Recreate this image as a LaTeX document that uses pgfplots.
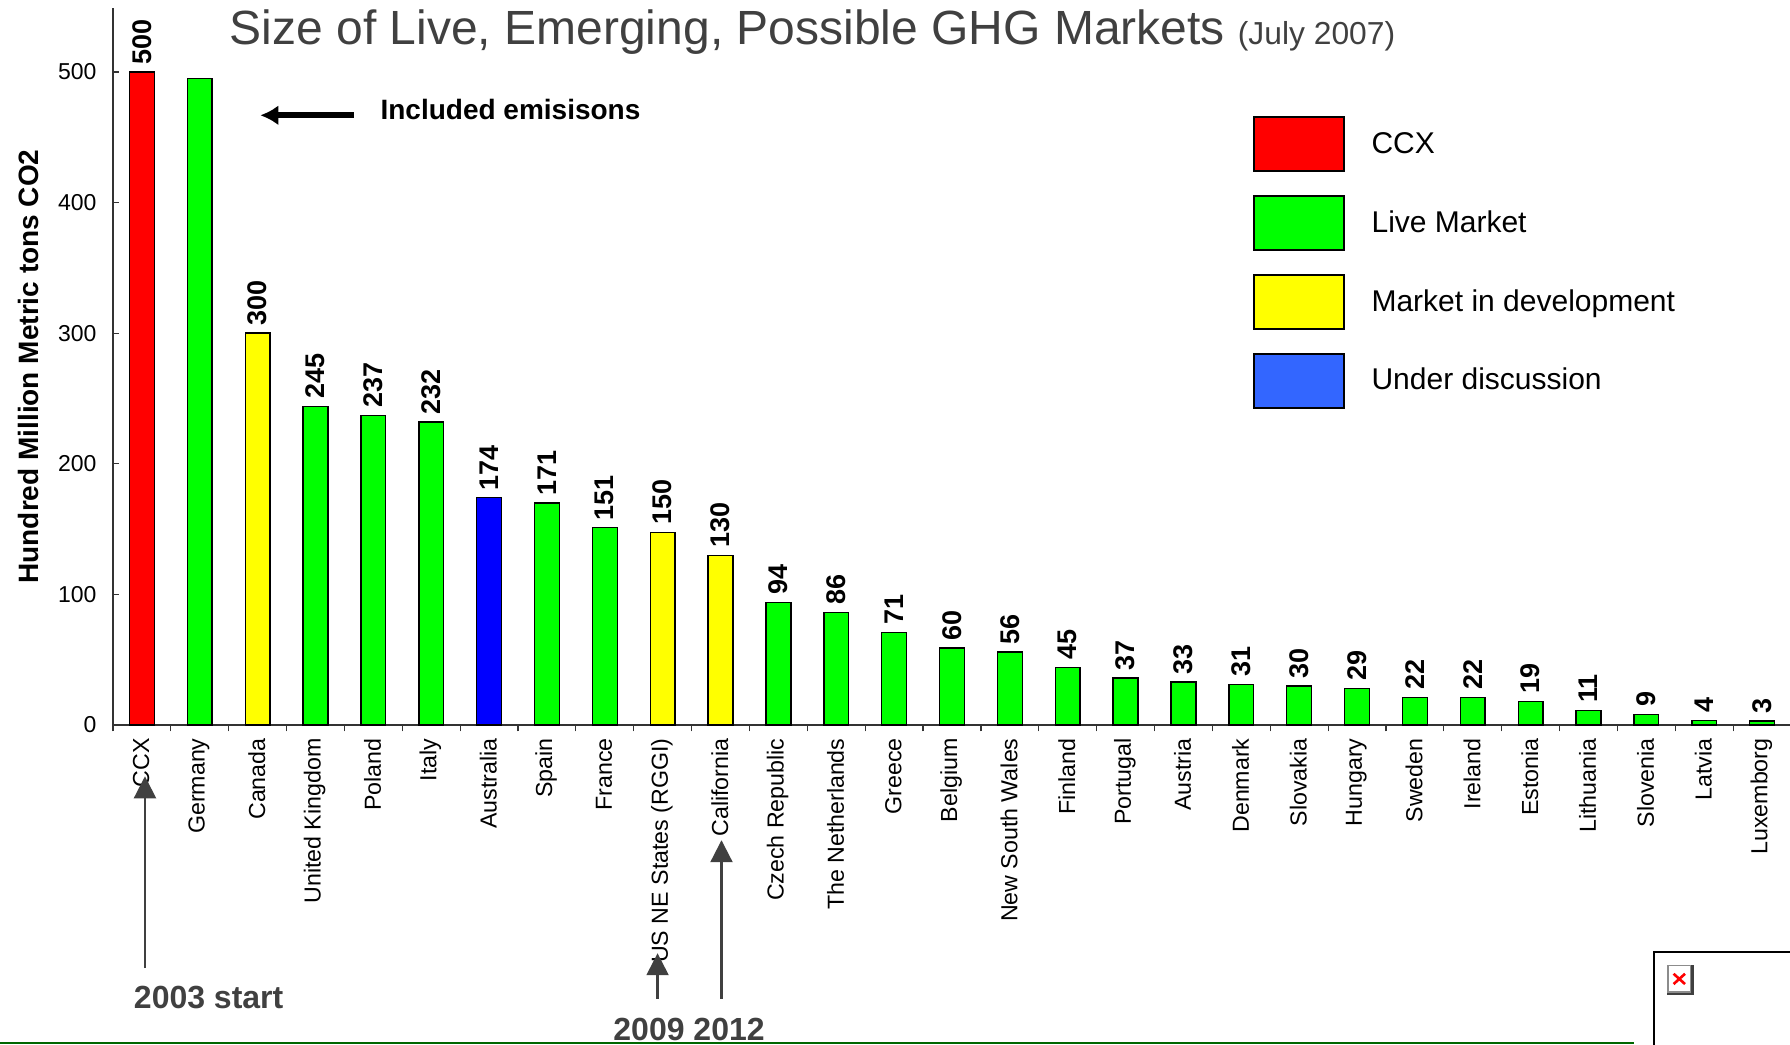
\documentclass[border=0pt]{standalone}
\usepackage{fontspec}
\setmainfont{Liberation Sans}
\usepackage{pgfplots}
\pgfplotsset{compat=1.18}
\usetikzlibrary{arrows.meta}
\definecolor{ink}{HTML}{404040}
\definecolor{axgray}{HTML}{333333}
\definecolor{livegreen}{HTML}{00FF00}
\definecolor{devyellow}{HTML}{FFFF00}
\definecolor{auburn}{HTML}{0000FF}
\definecolor{lgblue}{HTML}{3366FF}
\definecolor{ccxred}{HTML}{FF0000}
\definecolor{rule}{HTML}{006600}
\pgfplotsset{
  lab/.style={point meta=explicit symbolic, nodes near coords},
  swatch/.style={legend image code/.code={\draw[draw=black,line width=0.9pt,##1] (0pt,-13.5pt) rectangle (45pt,13.5pt);}},
}
\begin{document}
\begin{tikzpicture}
\useasboundingbox (0,0) rectangle (895pt,522.5pt);
\begin{axis}[
  at={(56.5pt,160pt)}, anchor=south west,
  scale only axis, width=839pt, height=358.5pt,
  xmin=-0.5, xmax=28.5, ymin=0, ymax=549,
  axis x line=bottom, axis y line=left,
  axis line style={-,axgray,line width=0.6pt},
  ybar, bar shift=0pt, bar width=12.4pt,
  clip=false,
  tick style={axgray,line width=0.6pt},
  ytick={0,100,200,300,400,500},
  ytick align=inside,
  major tick length=3.2pt,
  yticklabel style={font=\fontsize{11.5}{13}\selectfont, /pgf/number format/assume math mode=true, xshift=-4.7pt},
  xtick={0,1,...,28},
  major x tick style={draw=none},
  minor xtick={-0.5,0.5,...,28.5},
  xtick align=outside,
  minor tick length=3.2pt,
  xticklabels={CCX,Germany,Canada,United Kingdom,Poland,Italy,Australia,Spain,France,US NE States (RGGI),California,Czech Republic,The Netherlands,Greece,Belgium,New South Wales,Finland,Portugal,Austria,Denmark,Slovakia,Hungary,Sweden,Ireland,Estonia,Lithuania,Slovenia,Latvia,Luxemborg},
  xticklabel style={rotate=90, anchor=east, font=\fontsize{11.6}{13}\selectfont, yshift=0.4pt},
  ylabel={\bfseries Hundred Million Metric tons CO2},
  every axis y label/.style={at={(axis description cs:-0.0504,0.5)}, rotate=90, anchor=center, font=\fontsize{14}{16}\selectfont},
  every node near coord/.append style={rotate=90, anchor=west, font=\bfseries\fontsize{13.5}{15}\selectfont, black, inner sep=3.5pt},
  legend style={draw=none, fill=none, at={(axis description cs:0.679,0.8495)}, anchor=north west, font=\fontsize{15}{17}\selectfont, row sep=11.5pt, /tikz/every odd column/.append style={column sep=11.5pt}, inner sep=0pt},
  legend cell align=left,
]
\addplot+[forget plot, draw=black, line width=0.7pt, fill=ccxred, mark=none, lab] coordinates {(0,500)[500]};
\addplot+[forget plot, draw=black, line width=0.7pt, fill=livegreen, mark=none] coordinates {(1,495)};
\addplot+[forget plot, draw=black, line width=0.7pt, fill=livegreen, mark=none, lab] coordinates {
 (3,244)[245] (4,237)[237] (5,232)[232] (7,170)[171] (8,151)[151] (11,94)[94] (12,86)[86] (13,71)[71] (14,59)[60] (15,56)[56] (16,44)[45] (17,36)[37] (18,33)[33] (19,31)[31] (20,30)[30] (21,28)[29] (22,21)[22] (23,21)[22] (24,18)[19] (25,11)[11] (26,8)[9] (27,3.5)[4] (28,3)[3]};
\addplot+[forget plot, draw=black, line width=0.7pt, fill=devyellow, mark=none, lab] coordinates {(2,300)[300] (9,147.5)[150] (10,130)[130]};
\addplot+[forget plot, draw=black, line width=0.7pt, fill=auburn, mark=none, lab] coordinates {(6,174)[174]};
\addlegendimage{swatch, fill=ccxred}
\addlegendentry{CCX}
\addlegendimage{swatch, fill=livegreen}
\addlegendentry{Live Market}
\addlegendimage{swatch, fill=devyellow}
\addlegendentry{Market in development}
\addlegendimage{swatch, fill=lgblue}
\addlegendentry{Under discussion}
\end{axis}
\begin{scope}[shift={(0,522.5pt)}, x=0.5708pt, y=-0.5708pt]
  \node[anchor=west, text=ink, font=\fontsize{24}{26}\selectfont, inner sep=0pt] at (201,28) {Size of Live, Emerging, Possible GHG Markets};
  \node[anchor=west, text=ink, font=\fontsize{15.9}{18}\selectfont, inner sep=0pt] at (1084,32) {(July 2007)};
  \draw[black, line width=3pt, -{Latex[length=9pt,width=10pt]}] (310,101) -- (228,101);
  \node[anchor=west, font=\bfseries\fontsize{14}{16}\selectfont, inner sep=0pt] at (333,96) {Included emisisons};
  \draw[ink, line width=1.1pt, -{Triangle[length=11pt,width=11pt]}] (127,848) -- (127,680);
  \draw[ink, line width=1.1pt, -{Triangle[length=11pt,width=11pt]}] (576,875) -- (576,835);
  \draw[ink, line width=1.1pt, -{Triangle[length=11pt,width=11pt]}] (632,875) -- (632,736);
  \node[anchor=west, text=ink, font=\bfseries\fontsize{16}{18}\selectfont, inner sep=0pt] at (117,874) {2003 start};
  \node[anchor=west, text=ink, font=\bfseries\fontsize{16}{18}\selectfont, inner sep=0pt] at (537,902) {2009 2012};
  \draw[rule, line width=1pt] (0,913.9) -- (1431,913.9);
  \draw[black, line width=1pt] (1449,915) -- (1449,834) -- (1568,834);
  \fill[black!75] (1460,845) rectangle (1484,872);
  \fill[white] (1460.5,845.5) rectangle (1481,869);
  \draw[black!45, line width=0.7pt] (1461,846) rectangle (1481,869);
  \draw[red, line width=1.3pt] (1466,853) -- (1476,862) (1476,853) -- (1466,862);
\end{scope}
\end{tikzpicture}
\end{document}
